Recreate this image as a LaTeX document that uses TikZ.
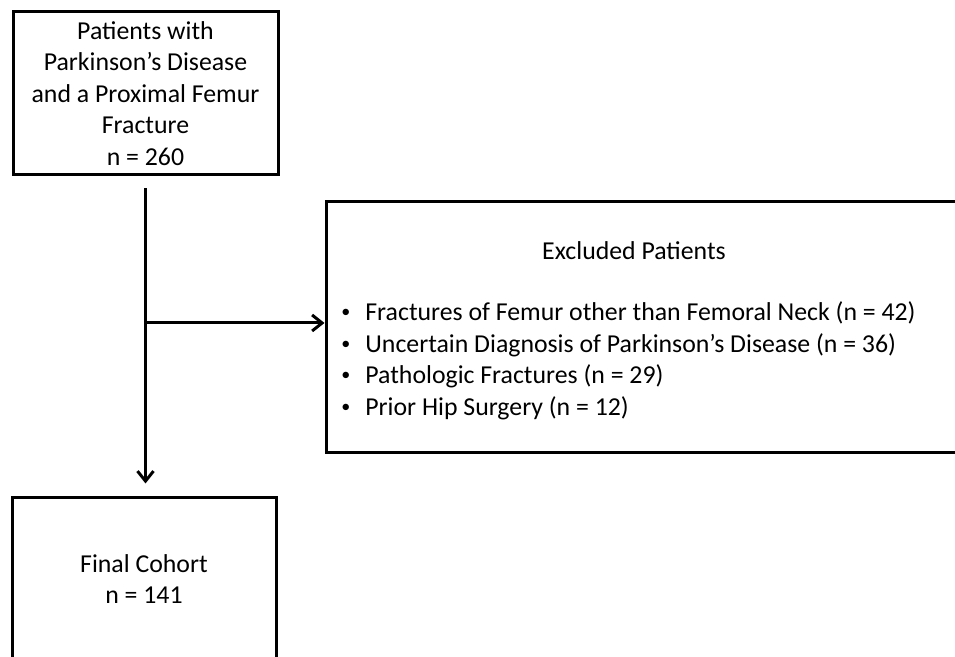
\documentclass[tikz,border=0pt]{standalone}
\usepackage{fontspec}
\usepackage{graphicx}
\setmainfont{Carlito}
\usetikzlibrary{arrows.meta}
\newcommand{\listdot}{\makebox[14pt][l]{\hspace{2pt}\raisebox{0.12em}{\scalebox{0.7}{•}}}}
\begin{document}
\begin{tikzpicture}[x=0.5pt, y=-0.5pt, >={Straight Barb[length=5pt,width=8pt]},
    box/.style={draw, line width=1.5pt, inner sep=0pt, align=center},
    flow/.style={->, line width=1.5pt},
    every node/.style={font=\fontsize{12.9}{15.75}\selectfont}]
    \useasboundingbox (0,0) rectangle (955,657);
    \clip (0,0) rectangle (955,657);

    % boxes
    \node[box, minimum width=132.5pt, minimum height=81.5pt] (start) at (145.5,93.5)
        {Patients with\\Parkinson’s Disease\\and a Proximal Femur\\Fracture\\n = 260};
    \node[box, minimum width=320pt, minimum height=125.5pt] (excl) at (646,327.5) {};
    \node[box, minimum width=132pt, minimum height=81pt] (final) at (144,579)
        {Final Cohort\\n = 141};

    % text of the excluded box
    \node (excltitle) at (634,251) {Excluded Patients};
    \node[anchor=west, align=left, inner sep=0pt] (excllist) at (337,361)
        {\listdot Fractures of Femur other than Femoral Neck (n = 42)\\
         \listdot Uncertain Diagnosis of Parkinson’s Disease (n = 36)\\
         \listdot Pathologic Fractures (n = 29)\\
         \listdot Prior Hip Surgery (n = 12)};

    % connectors
    \coordinate (split) at (145,323);
    \draw[flow, shorten <=6pt, shorten >=6.5pt] (start.south) -- (start.south |- final.north);
    \draw[flow] (split) -- (split -| excl.west);
\end{tikzpicture}
\end{document}
